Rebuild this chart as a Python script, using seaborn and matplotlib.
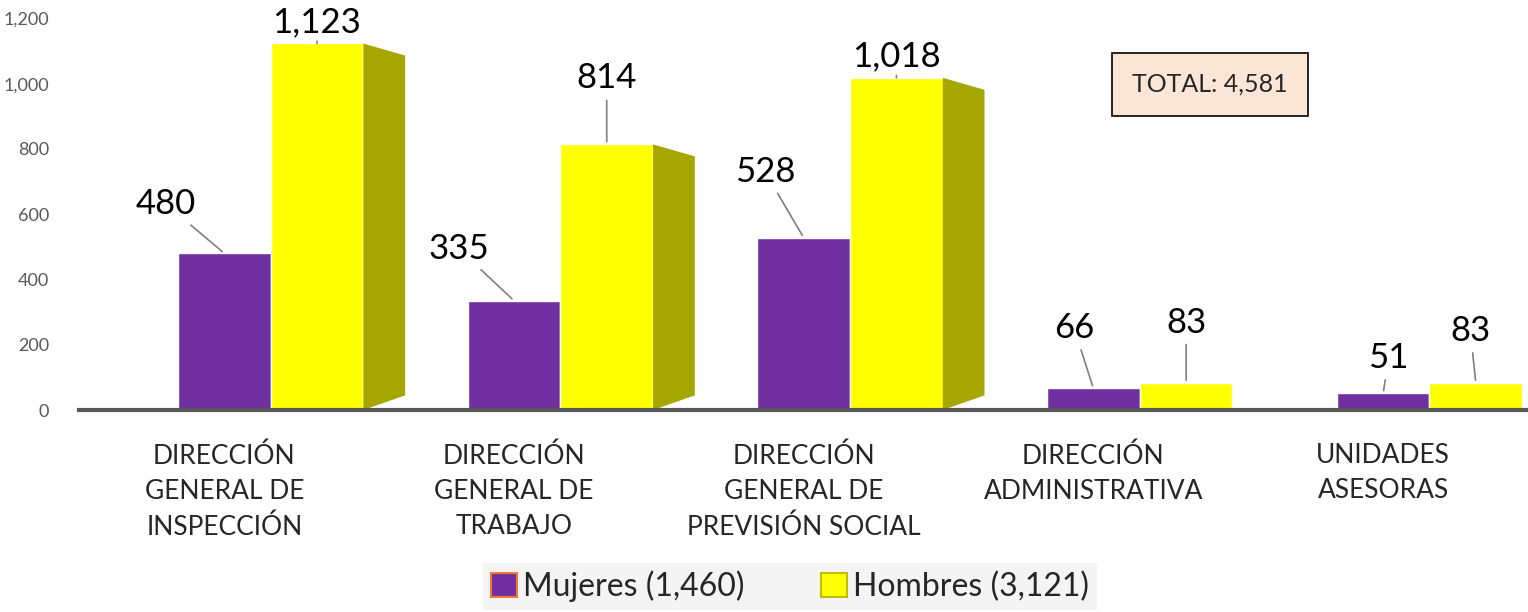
import matplotlib
matplotlib.use("Agg")
import matplotlib.pyplot as plt
import pandas as pd
import seaborn as sns
from matplotlib.patches import Patch, Polygon
from matplotlib.ticker import FuncFormatter

categories = [
    "DIRECCIÓN\nGENERAL DE\nINSPECCIÓN",
    "DIRECCIÓN\nGENERAL DE\nTRABAJO",
    "DIRECCIÓN\nGENERAL DE\nPREVISIÓN SOCIAL",
    "DIRECCIÓN\nADMINISTRATIVA",
    "UNIDADES\nASESORAS",
]
mujeres = [480, 335, 528, 66, 51]
hombres = [1123, 814, 1018, 83, 83]
series_names = ["Mujeres (1,460)", "Hombres (3,121)"]
total_label = "TOTAL: 4,581"

PURPLE = "#7030A0"
YELLOW = "#FFFF00"
OLIVE = "#A6A600"
PERSPECTIVE_SHIFT = 0.16   # the 3D look pushes bars right of their labels

df = pd.DataFrame({
    "cat": categories * 2,
    "serie": [series_names[0]] * 5 + [series_names[1]] * 5,
    "valor": mujeres + hombres,
})

sns.set_theme(style="white")
plt.rcParams["font.family"] = ["Lato", "DejaVu Sans"]

fig = plt.figure(figsize=(15.28, 6.12), dpi=100)
ax = fig.add_axes([0.052, 0.33, 0.948, 0.64])

sns.barplot(data=df, x="cat", y="valor", hue="serie",
            palette=[PURPLE, YELLOW], width=0.64, saturation=1,
            errorbar=None, legend=False, ax=ax)

ax.set_xlim(-0.5, len(categories) - 0.5)
ax.set_ylim(0, 1200)
ax.set_yticks(range(0, 1201, 200))
ax.yaxis.set_major_formatter(FuncFormatter(lambda v, _: f"{int(v):,}"))
ax.tick_params(axis="y", labelsize=13, labelcolor="#595959", length=0, pad=22)
ax.tick_params(axis="x", labelsize=19, length=0, pad=24)
for lab in ax.get_xticklabels():
    lab.set_linespacing(1.5)
ax.set_xlabel("")
ax.set_ylabel("")
for side in ["top", "right", "left"]:
    ax.spines[side].set_visible(False)
ax.spines["bottom"].set_color("#595959")
ax.spines["bottom"].set_linewidth(3)

n = len(categories)
purple_bars = ax.patches[:n]
yellow_bars = ax.patches[n:2 * n]
for p in purple_bars + yellow_bars:
    p.set_x(p.get_x() + PERSPECTIVE_SHIFT)

# darker side face on the tall yellow bars, built from each bar's own geometry
for p in yellow_bars:
    h = p.get_height()
    if h < 150:
        continue
    xr = p.get_x() + p.get_width()
    d = p.get_width() * 0.45
    face = Polygon([(xr, 0), (xr + d, 45), (xr + d, h - 37), (xr, h)],
                   closed=True, facecolor=OLIVE, edgecolor="none", zorder=1)
    ax.add_patch(face)

purple_off = [(-42, 24), (-40, 26), (-28, 36), (-14, 32), (4, 14)]
yellow_off = [(0, 4), (0, 36), (0, 4), (0, 32), (-4, 26)]

for bars, vals, offs in [(purple_bars, mujeres, purple_off),
                         (yellow_bars, hombres, yellow_off)]:
    for p, v, off in zip(bars, vals, offs):
        cx = p.get_x() + p.get_width() / 2
        ax.annotate(f"{v:,}", xy=(cx, p.get_height()), xytext=off,
                    textcoords="offset points", ha="center", va="bottom",
                    fontsize=25, color="black",
                    arrowprops=dict(arrowstyle="-", color="#7F7F7F", lw=1.2,
                                    shrinkA=2, shrinkB=2))

fig.text(0.792, 0.862, total_label, ha="center", va="center", fontsize=18,
         bbox=dict(boxstyle="square,pad=0.8", facecolor="#FBE5D6",
                   edgecolor="black", linewidth=1.2))

handles = [Patch(facecolor=PURPLE, edgecolor="#ED7D31", linewidth=1.5),
           Patch(facecolor=YELLOW, edgecolor="#BFBF00", linewidth=1.5)]
fig.legend(handles, series_names, loc="center", bbox_to_anchor=(0.517, 0.042),
           ncol=2, frameon=True, facecolor="#F2F2F2", edgecolor="none",
           fontsize=23, handlelength=0.8, handleheight=0.8, handletextpad=0.2,
           columnspacing=2.4, borderpad=0.25, borderaxespad=0, fancybox=False)

fig.savefig("out.png", dpi=100)
